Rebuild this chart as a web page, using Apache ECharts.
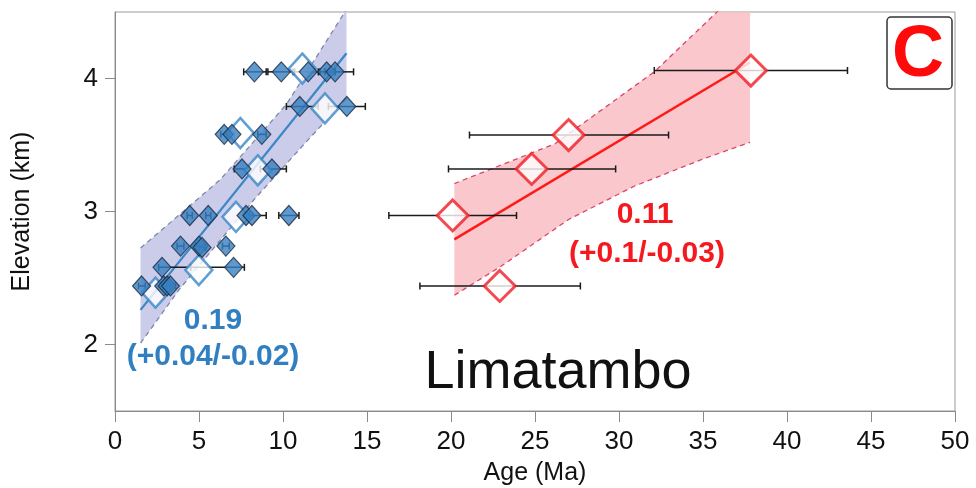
<!DOCTYPE html>
<html><head><meta charset="utf-8">
<script src="https://cdn.jsdelivr.net/npm/echarts@6/dist/echarts.min.js"></script>
<style>html,body{margin:0;padding:0;background:#fff}#c{width:976px;height:488px}</style>
</head><body><div id="c"></div>
<script>
// ---- data ----
const xTicks = [0,5,10,15,20,25,30,35,40,45,50];
const yTicks = [2,3,4];

// blue: filled diamonds with age uncertainty
const blueAge    = [8.3, 9.9, 11.5, 12.6, 13.1, 11.0, 13.8, 6.5, 6.96, 8.74, 7.56, 9.34, 4.45, 5.55, 7.8, 8.15, 10.35, 3.9, 5.0, 5.18, 6.6, 2.8, 7.06, 1.58, 2.9, 3.1, 3.3];
const blueElev   = [4.05, 4.05, 4.05, 4.05, 4.05, 3.79, 3.79, 3.58, 3.58, 3.58, 3.32, 3.32, 2.97, 2.97, 2.97, 2.97, 2.97, 2.74, 2.74, 2.73, 2.74, 2.58, 2.58, 2.44, 2.44, 2.44, 2.44];
const blueAgeMin = [7.66, 9.1, 10.7, 12.1, 12.5, 10.2, 12.7, 6.3, 6.8, 8.5, 7.1, 8.65, 4.3, 5.4, 7.6, 7.7, 9.75, 3.7, 4.8, 5.0, 6.4, 2.6, 4.5, 1.4, 2.7, 2.9, 3.1];
const blueAgeMax = [9.0, 10.6, 12.2, 13.1, 14.2, 12.1, 14.9, 6.7, 7.1, 9.0, 8.0, 10.2, 4.6, 5.7, 8.0, 9.0, 10.95, 4.1, 5.3, 5.4, 6.8, 4.5, 7.7, 1.8, 3.1, 3.3, 3.6];

// blue: open diamonds
const blueOpenAge  = [2.41, 4.99, 7.2, 8.5, 7.46, 12.5, 11.15];
const blueOpenElev = [2.39, 2.56, 2.96, 3.31, 3.59, 3.775, 4.075];

// blue regression and confidence band
const blueFit   = [[1.52, 2.26], [13.78, 4.19]];
const blueUpper = [[1.52, 2.725], [6.27, 3.24], [10.23, 3.81], [13.78, 4.52]];
const blueLower = [[1.52, 2.01], [3.8, 2.41], [8.35, 3.10], [11.5, 3.54], [13.78, 3.85]];

// red: open diamonds with age uncertainty
const redAge    = [20.1, 22.9, 24.8, 27.0, 37.85];
const redElev   = [2.97, 2.44, 3.32, 3.575, 4.06];
const redAgeMin = [16.3, 18.15, 19.85, 21.1, 32.1];
const redAgeMax = [23.9, 27.7, 29.8, 32.95, 43.6];

// red regression and confidence band
const redFit   = [[20.2, 2.79], [37.8, 4.12]];
const redUpper = [[20.2, 3.21], [26.2, 3.51], [28.7, 3.74], [32.1, 4.05], [35.75, 4.49], [37.8, 4.76]];
const redLower = [[20.2, 2.37], [23, 2.59], [27, 2.94], [30.9, 3.19], [34.9, 3.39], [37.8, 3.52]];

// ---- build ----
const FONT = "'Liberation Sans', Arial, Helvetica, sans-serif";
function bandSeries(upper, lower, color) {
  return {
    type: 'custom', clip: true, silent: true, z: 1, data: [0],
    renderItem: function (params, api) {
      const pts = upper.map(p => api.coord(p)).concat(lower.slice().reverse().map(p => api.coord(p)));
      return { type: 'polygon', shape: { points: pts }, style: { fill: color } };
    }
  };
}
function lineSeries(data, color, width, type, z) {
  return { type: 'line', data: data, showSymbol: false, symbol: 'none', silent: true, clip: true, z: z,
    lineStyle: { color: color, width: width, type: type } };
}
function errSeries(ages, elevs, mins, maxs, z) {
  const d = ages.map((a, i) => [a, elevs[i], mins[i], maxs[i]]);
  return {
    type: 'custom', silent: true, z: z, data: d,
    encode: { x: [0, 2, 3], y: 1 },
    renderItem: function (params, api) {
      const y = api.value(1);
      const p1 = api.coord([api.value(2), y]);
      const p2 = api.coord([api.value(3), y]);
      const st = { stroke: '#1a1a1a', lineWidth: 1.5 };
      return { type: 'group', children: [
        { type: 'line', shape: { x1: p1[0], y1: p1[1], x2: p2[0], y2: p2[1] }, style: st },
        { type: 'line', shape: { x1: p1[0], y1: p1[1] - 3.5, x2: p1[0], y2: p1[1] + 3.5 }, style: st },
        { type: 'line', shape: { x1: p2[0], y1: p2[1] - 3.5, x2: p2[0], y2: p2[1] + 3.5 }, style: st }
      ] };
    }
  };
}
const zip = (a, b) => a.map((v, i) => [v, b[i]]);

const chart = echarts.init(document.getElementById('c'), null, { renderer: 'canvas' });
chart.setOption({
  animation: false,
  backgroundColor: '#fff',
  grid: { left: 115, right: 21, top: 12, bottom: 77, outerBoundsMode: 'none', containLabel: false,
    show: true, borderColor: '#9a9a9a', borderWidth: 1, backgroundColor: 'transparent' },
  xAxis: {
    type: 'value', min: 0, max: 50, interval: 5,
    name: 'Age (Ma)', nameLocation: 'middle', nameGap: 50,
    nameTextStyle: { fontFamily: FONT, fontSize: 25, color: '#111' },
    axisLine: { show: true, lineStyle: { color: '#8a8a8a', width: 1 } },
    axisTick: { show: true, inside: false, length: 11, lineStyle: { color: '#8a8a8a' } },
    axisLabel: { fontFamily: FONT, fontSize: 26, color: '#111', margin: 18,
      customValues: xTicks },
    splitLine: { show: false }
  },
  yAxis: {
    type: 'value', min: 1.5, max: 4.5,
    name: 'Elevation (km)', nameLocation: 'middle', nameGap: 80, nameRotate: 90,
    nameTextStyle: { fontFamily: FONT, fontSize: 25, color: '#111' },
    axisLine: { show: true, lineStyle: { color: '#8a8a8a', width: 1 } },
    axisTick: { show: true, length: 10, customValues: yTicks, lineStyle: { color: '#8a8a8a' } },
    axisLabel: { fontFamily: FONT, fontSize: 26, color: '#111', margin: 17, customValues: yTicks },
    splitLine: { show: false }
  },
  series: [
    bandSeries(blueUpper, blueLower, 'rgba(196,198,232,0.9)'),
    bandSeries(redUpper, redLower, 'rgba(250,194,198,0.9)'),
    lineSeries(blueUpper, '#7c87aa', 1.3, [5, 4], 2),
    lineSeries(blueLower, '#7c87aa', 1.3, [5, 4], 2),
    lineSeries(redUpper, '#d9466a', 1.3, [5, 4], 2),
    lineSeries(redLower, '#d9466a', 1.3, [5, 4], 2),
    lineSeries(blueFit, '#3a86c6', 2.2, 'solid', 3),
    lineSeries(redFit, '#ff1a1a', 2.5, 'solid', 3),
    errSeries(redAge, redElev, redAgeMin, redAgeMax, 4),
    errSeries(blueAge, blueElev, blueAgeMin, blueAgeMax, 4),
    { type: 'scatter', z: 5, silent: true, data: zip(blueOpenAge, blueOpenElev), symbol: 'diamond', symbolSize: [27, 30],
      itemStyle: { color: '#fff', borderColor: '#3a86c6', borderWidth: 2.5 } },
    { type: 'scatter', z: 6, silent: true, data: zip(blueAge, blueElev), symbol: 'diamond', symbolSize: [18, 20],
      itemStyle: { color: '#377fc0', borderColor: '#1b2a40', borderWidth: 1.2 } },
    { type: 'scatter', z: 6, silent: true, data: zip(redAge, redElev), symbol: 'diamond', symbolSize: [31, 31],
      itemStyle: { color: '#fff', borderColor: '#f01c24', borderWidth: 3 } }
  ],
  graphic: [
    { type: 'text', x: 213, y: 321, style: { text: '0.19', fill: '#2f7fc1', font: 'bold 30px ' + FONT, align: 'center', verticalAlign: 'middle' } },
    { type: 'text', x: 213, y: 357, style: { text: '(+0.04/-0.02)', fill: '#2f7fc1', font: 'bold 30px ' + FONT, align: 'center', verticalAlign: 'middle' } },
    { type: 'text', x: 645, y: 215, style: { text: '0.11', fill: '#f5181e', font: 'bold 30px ' + FONT, align: 'center', verticalAlign: 'middle' } },
    { type: 'text', x: 647, y: 254, style: { text: '(+0.1/-0.03)', fill: '#f5181e', font: 'bold 30px ' + FONT, align: 'center', verticalAlign: 'middle' } },
    { type: 'text', x: 558, y: 373, style: { text: 'Limatambo', fill: '#111', font: '54px ' + FONT, align: 'center', verticalAlign: 'middle' } },
    { type: 'rect', shape: { x: 887, y: 17, width: 65, height: 72, r: 4 }, style: { fill: '#fff', stroke: '#333', lineWidth: 1.5 }, z: 10 },
    { type: 'text', x: 918, y: 56, z: 11, style: { text: 'C', fill: '#ff0a0a', font: 'bold 72px ' + FONT, align: 'center', verticalAlign: 'middle' } }
  ]
});
</script></body></html>
